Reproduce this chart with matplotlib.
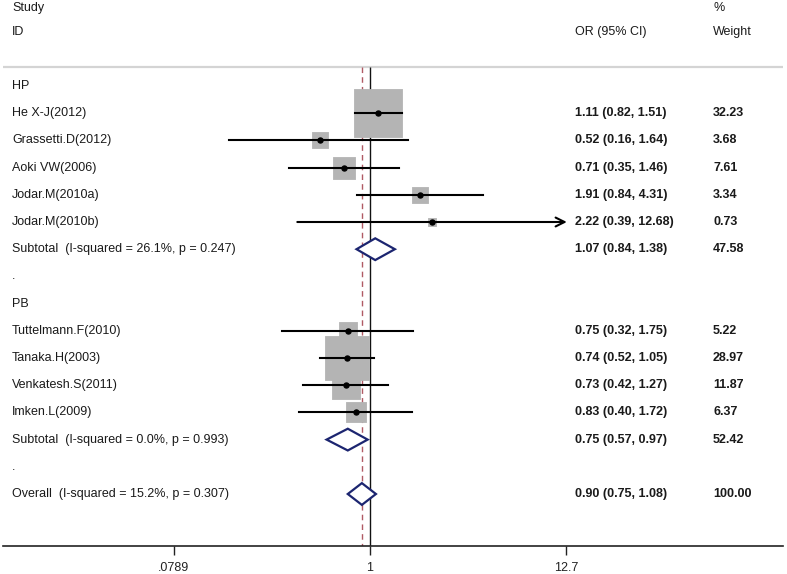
import numpy as np
import matplotlib.pyplot as plt
from matplotlib.patches import Polygon

plt.rcParams['font.family'] = ['Liberation Sans', 'DejaVu Sans']

# study level data
studies = ["He X-J(2012)", "Grassetti.D(2012)", "Aoki VW(2006)", "Jodar.M(2010a)",
           "Jodar.M(2010b)", "Tuttelmann.F(2010)", "Tanaka.H(2003)",
           "Venkatesh.S(2011)", "Imken.L(2009)"]
group = ["HP", "HP", "HP", "HP", "HP", "PB", "PB", "PB", "PB"]
odds = [1.11, 0.52, 0.71, 1.91, 2.22, 0.75, 0.74, 0.73, 0.83]
ci_lo = [0.82, 0.16, 0.35, 0.84, 0.39, 0.32, 0.52, 0.42, 0.40]
ci_hi = [1.51, 1.64, 1.46, 4.31, 12.68, 1.75, 1.05, 1.27, 1.72]
weights = [32.23, 3.68, 7.61, 3.34, 0.73, 5.22, 28.97, 11.87, 6.37]

# pooled estimates
groups = ["HP", "PB"]
sub_label = ["Subtotal  (I-squared = 26.1%, p = 0.247)",
             "Subtotal  (I-squared = 0.0%, p = 0.993)"]
sub_or = [1.07, 0.75]
sub_lo = [0.84, 0.57]
sub_hi = [1.38, 0.97]
sub_w = [47.58, 52.42]
overall_label = "Overall  (I-squared = 15.2%, p = 0.307)"
overall = (0.90, 0.75, 1.08, 100.00)

tick_vals = [0.0789, 1, 12.7]
tick_labels = [".0789", "1", "12.7"]

# figure: axes bottom edge is the x axis line
W, H = 787, 574
fig = plt.figure(figsize=(W / 100, H / 100), dpi=100)
ax_bottom = 546
ax = fig.add_axes([3 / W, (H - ax_bottom) / H, 780 / W, ax_bottom / H])

px_per_ln = 77.2
x0 = 370
ax.set_xscale('log')
ax.set_xlim(np.exp((3 - x0) / px_per_ln), np.exp((783 - x0) / px_per_ln))
row_h = 27.2
row0 = 86
ax.set_ylim((ax_bottom - row0) / row_h, (0 - row0) / row_h)

for s in ['top', 'left', 'right']:
    ax.spines[s].set_visible(False)
ax.spines['bottom'].set_linewidth(1.2)
ax.spines['bottom'].set_color('#222222')
ax.set_yticks([])
ax.set_xticks(tick_vals)
ax.set_xticklabels(tick_labels)
ax.xaxis.set_minor_locator(plt.NullLocator())
ax.tick_params(axis='x', length=6.5, width=1.0, pad=5, labelsize=9, colors='#222222')

txt = dict(fontsize=9, color='#1a1a1a', va='center')
lab_x = 12 / W
or_x = 575 / W
w_x = 713 / W
trans = ax.get_yaxis_transform()  # x in axes fraction, y in data
def put(x, y, s, **kw):
    kw2 = dict(txt)
    kw2.update(kw)
    ax.text((x * W - 3) / 780, y, s, transform=trans, **kw2)

# headers
put(lab_x, -2.86, "Study")
put(lab_x, -1.98, "ID")
put(or_x, -1.98, "OR (95% CI)")
put(w_x, -2.86, "%")
put(w_x, -1.98, "Weight")
ax.axhline(-0.7, color='#d4d4d4', lw=1.6, zorder=1)

# reference lines
ax.vlines(1, -0.7, 17, color='#111111', lw=1.0, zorder=2)
ax.vlines(overall[0], -0.7, 17, color='#b05a64', lw=1.0, linestyles=(0, (4, 3)), zorder=2)

def diamond(y, est, lo, hi, h=0.4):
    d = Polygon([[lo, y], [est, y - h], [hi, y], [est, y + h]], closed=True,
                facecolor='white', edgecolor='#1c2570', lw=1.6, zorder=4)
    ax.add_patch(d)

fmt = lambda e, l, h: f"{e:.2f} ({l:.2f}, {h:.2f})"

row = 0
for g_i, g in enumerate(groups):
    put(lab_x, row, g)
    row += 1
    for i in range(len(studies)):
        if group[i] != g:
            continue
        side = 8.28 * np.sqrt(weights[i]) * 0.72
        ax.scatter([odds[i]], [row], marker='s', s=side ** 2, color='#b4b4b4',
                   edgecolors='#b4b4b4', linewidths=0.6, zorder=3)
        if ci_hi[i] > 12.0:
            ax.annotate('', xy=(12.8, row), xytext=(ci_lo[i], row),
                        arrowprops=dict(arrowstyle='->', lw=1.5, color='black',
                                        mutation_scale=16, shrinkA=0, shrinkB=0),
                        zorder=5)
        else:
            ax.plot([ci_lo[i], ci_hi[i]], [row, row], color='black', lw=1.5, zorder=5)
        ax.plot([odds[i]], [row], 'o', color='black', ms=3.6, zorder=6)
        put(lab_x, row, studies[i])
        put(or_x, row, fmt(odds[i], ci_lo[i], ci_hi[i]), fontweight='bold')
        put(w_x, row, f"{weights[i]:.2f}", fontweight='bold')
        row += 1
    diamond(row, sub_or[g_i], sub_lo[g_i], sub_hi[g_i])
    put(lab_x, row, sub_label[g_i])
    put(or_x, row, fmt(sub_or[g_i], sub_lo[g_i], sub_hi[g_i]), fontweight='bold')
    put(w_x, row, f"{sub_w[g_i]:.2f}", fontweight='bold')
    row += 1
    put(lab_x, row, ".")
    row += 1

diamond(row, overall[0], overall[1], overall[2])
put(lab_x, row, overall_label)
put(or_x, row, fmt(*overall[:3]), fontweight='bold')
put(w_x, row, f"{overall[3]:.2f}", fontweight='bold')

fig.savefig("out.png", dpi=100)
